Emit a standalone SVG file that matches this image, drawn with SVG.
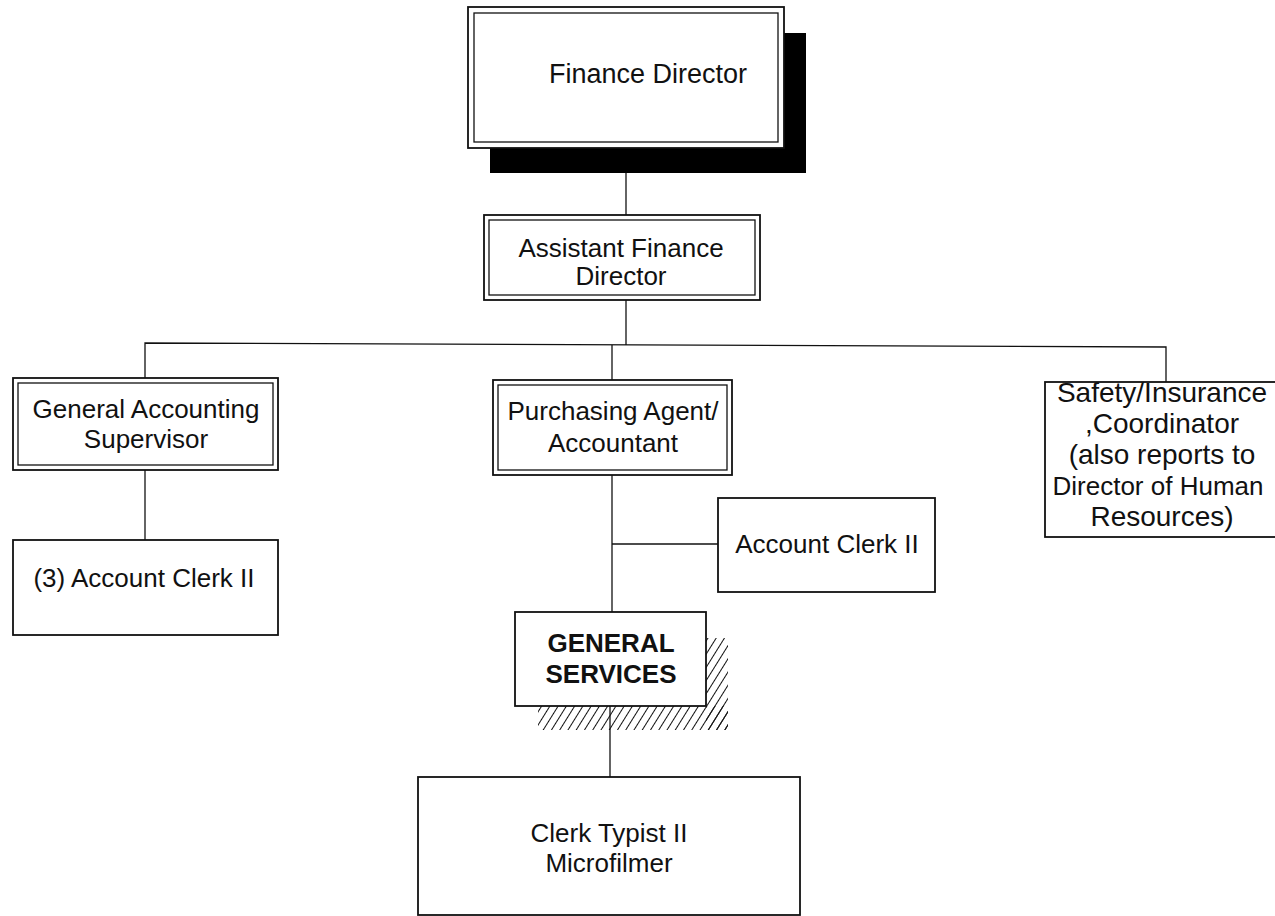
<svg xmlns="http://www.w3.org/2000/svg" width="1275" height="916" viewBox="0 0 1275 916">
  <defs>
    <pattern id="hatch" width="7" height="7" patternUnits="userSpaceOnUse" patternTransform="rotate(32)">
      <line x1="0" y1="0" x2="0" y2="7" stroke="#111" stroke-width="2"/>
    </pattern>
  </defs>
  <style>
    .bg { fill: #fff; }
    .box { fill: #fff; stroke: #111; stroke-width: 1.8; }
    .inner { fill: none; stroke: #111; stroke-width: 1.3; }
    .wire { fill: none; stroke: #111; stroke-width: 1.3; }
    .t { font-family: "Liberation Sans", Arial, sans-serif; font-size: 26px; fill: #111; text-anchor: middle; }
    .big { font-size: 27px; }
    .bold { font-weight: bold; }
    .safety { font-size: 28px; }
  </style>
  <rect class="bg" x="0" y="0" width="1275" height="916"/>

  <!-- reporting lines -->
  <g id="connectors">
    <line class="wire" x1="626" y1="173" x2="626" y2="215"/>
    <line class="wire" x1="626" y1="300" x2="626" y2="345"/>
    <polyline class="wire" points="145,378 145,343 1166,347 1166,382"/>
    <line class="wire" x1="612" y1="345" x2="612" y2="380"/>
    <line class="wire" x1="145" y1="470" x2="145" y2="540"/>
    <line class="wire" x1="612" y1="475" x2="612" y2="612"/>
    <line class="wire" x1="612" y1="544" x2="718" y2="544"/>
    <line class="wire" x1="610" y1="706" x2="610" y2="777"/>
  </g>

  <g id="finance-director">
    <rect x="490" y="33" width="316" height="140" fill="#000"/>
    <rect class="box" x="468" y="7" width="316" height="141"/>
    <rect class="inner" x="474" y="13" width="304" height="129"/>
    <text class="t big" x="648" y="83">Finance Director</text>
  </g>

  <g id="assistant-finance-director">
    <rect class="box" x="484" y="215" width="276" height="85"/>
    <rect class="inner" x="489" y="220" width="266" height="75"/>
    <text class="t" x="621" y="257">Assistant Finance</text>
    <text class="t" x="621" y="285">Director</text>
  </g>

  <g id="general-accounting-supervisor">
    <rect class="box" x="13" y="378" width="265" height="92"/>
    <rect class="inner" x="18" y="383" width="255" height="82"/>
    <text class="t" x="146" y="418">General Accounting</text>
    <text class="t" x="146" y="448">Supervisor</text>
  </g>

  <g id="account-clerks-3">
    <rect class="box" x="13" y="540" width="265" height="95"/>
    <text class="t" x="144" y="587">(3) Account Clerk II</text>
  </g>

  <g id="purchasing-agent">
    <rect class="box" x="493" y="380" width="239" height="95"/>
    <rect class="inner" x="498" y="385" width="229" height="85"/>
    <text class="t" x="613" y="420">Purchasing Agent/</text>
    <text class="t" x="613" y="452">Accountant</text>
  </g>

  <g id="account-clerk">
    <rect class="box" x="718" y="498" width="217" height="94"/>
    <text class="t" x="827" y="553">Account Clerk II</text>
  </g>

  <g id="general-services">
    <rect x="706" y="638" width="22" height="92" fill="url(#hatch)"/>
    <rect x="538" y="706" width="190" height="24" fill="url(#hatch)"/>
    <rect class="box" x="515" y="612" width="191" height="94" stroke-width="2.4"/>
    <text class="t bold" x="611" y="652">GENERAL</text>
    <text class="t bold" x="611" y="683">SERVICES</text>
  </g>

  <g id="clerk-typist">
    <rect class="box" x="418" y="777" width="382" height="138"/>
    <text class="t" x="609" y="842">Clerk Typist II</text>
    <text class="t" x="609" y="872">Microfilmer</text>
  </g>

  <g id="safety-insurance">
    <rect class="box" x="1045" y="382" width="250" height="155"/>
    <text class="t safety" x="1162" y="402">Safety/Insurance</text>
    <text class="t safety" x="1162" y="433">,Coordinator</text>
    <text class="t safety" x="1162" y="464">(also reports to</text>
    <text class="t" x="1158" y="495">Director of Human</text>
    <text class="t safety" x="1162" y="526">Resources)</text>
  </g>
</svg>
